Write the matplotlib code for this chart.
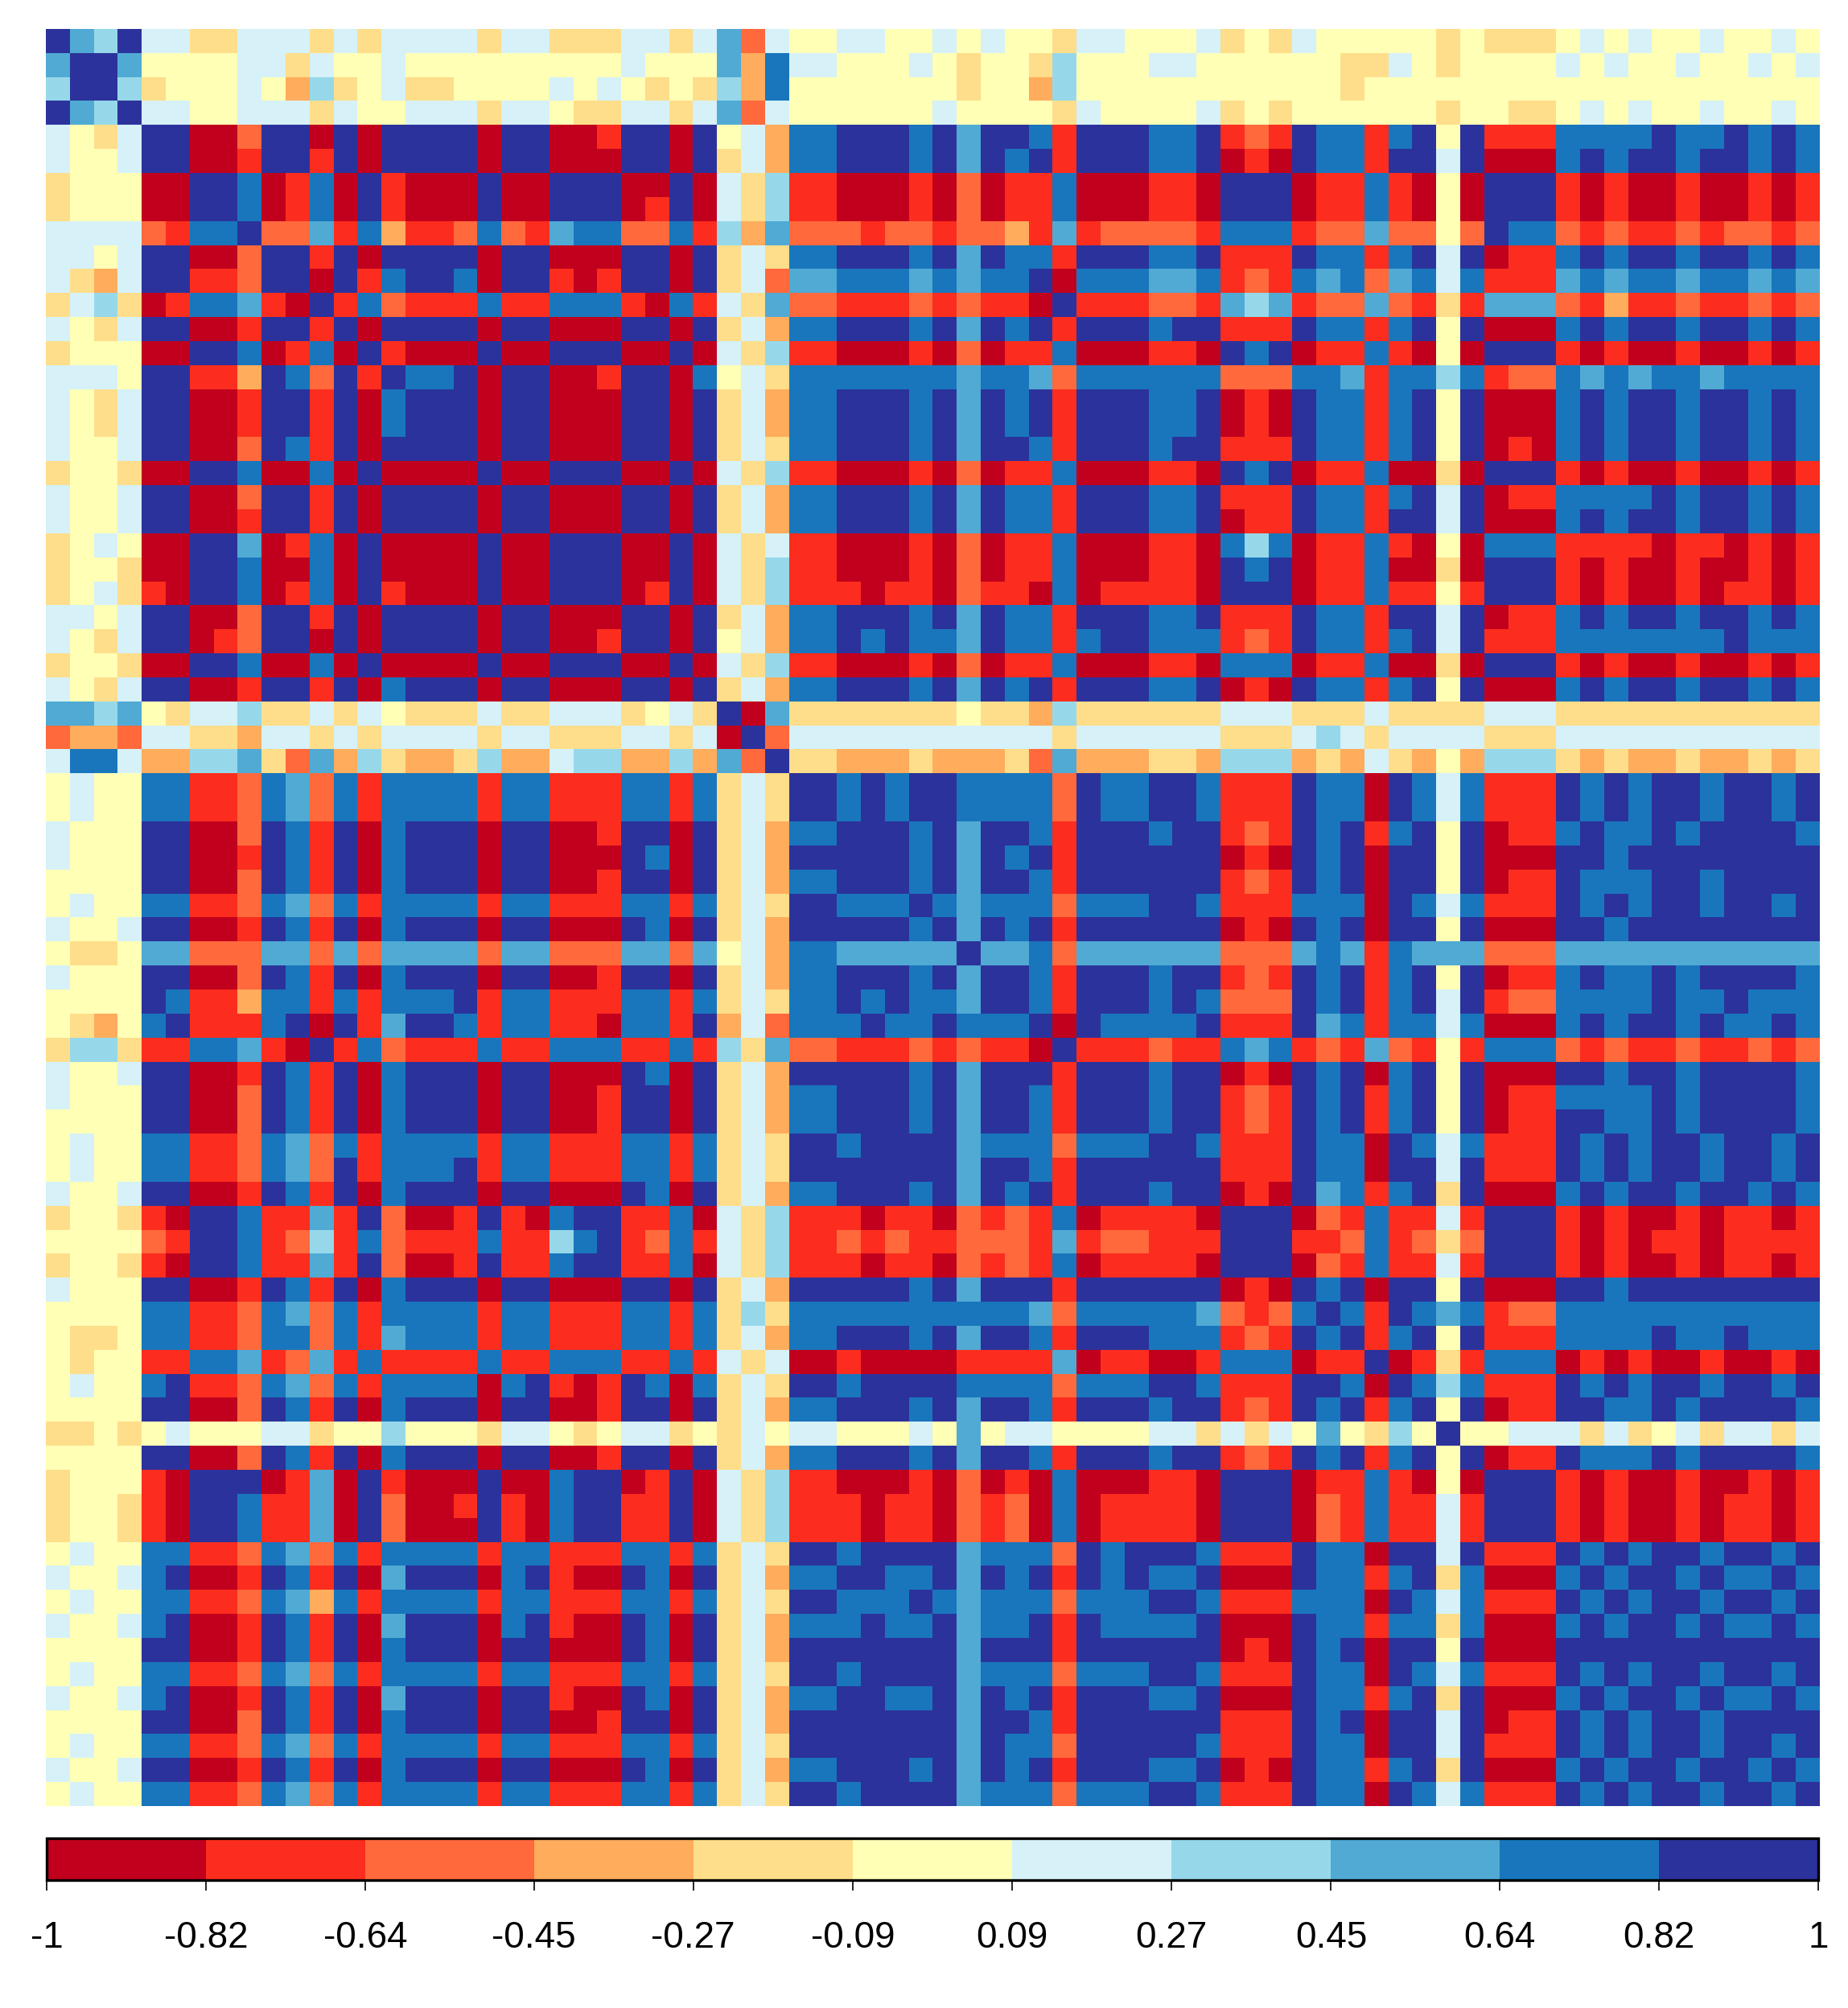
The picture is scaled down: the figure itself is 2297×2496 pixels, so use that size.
import numpy as np
import matplotlib
matplotlib.use("Agg")
import matplotlib.pyplot as plt
from matplotlib.colors import ListedColormap, BoundaryNorm
from matplotlib.cm import ScalarMappable

plt.rcParams["font.family"] = ["Liberation Sans", "DejaVu Sans"]

breaks = [-1, -0.82, -0.64, -0.45, -0.27, -0.09, 0.09, 0.27, 0.45, 0.64, 0.82, 1]
tick_labels = ["-1", "-0.82", "-0.64", "-0.45", "-0.27", "-0.09", "0.09", "0.27", "0.45", "0.64", "0.82", "1"]
colors = ["#c1001e", "#fc2d1e", "#ff693c", "#ffac5c", "#fede8a", "#ffffb6",
          "#d6f1f8", "#96d8ea", "#50aad4", "#1976bc", "#2c329b"]

# upper triangle, one string per row starting at the diagonal
# each char is a colour class: 0-9, A = 10
upper_rows = [
    "A87A 6644 666 4 6 4 6666 4 66 444 6 | 6468265566556545 | 5 4 6 5 5 5 5 5 4 5 4 4 4 5 6 5 6 5 5 6 5 5 6 5".replace("6468265566556545", "6 4 6 8 2 6 5 5 6 6 5 5 6 5 6 5 5 4 6 6 5 5 5 6 4"),
    "A A 8 5 5 5 5 6 6 4 6 5 5 6 5 5 5 5 5 5 5 5 5 6 | 5 5 5 8 3 9 6 6 5 5 5 6 5 4 5 5 4 7 5 5 5 6 6 5 5 | 5 5 5 5 4 4 6 5 4 5 5 5 5 6 5 6 5 5 6 5 5 6 5 6",
    "A 7 4 5 5 5 6 5 3 7 4 5 6 4 4 5 5 5 5 6 5 6 5 | 4 5 4 7 3 9 5555555 4 5 5 3 7 55555555 | 555 4 5555555555555555555",
    "A 6 6 5 5 6 6 6 4 6 5 5 6 6 6 4 6 6 5 4 4 6 | 6 4 6 8 2 6 555555 6 5555 4 6 5555 6 4 | 5 4 555555 4 5 5 4 4 5 6 5 6 5 5 6 5 5 6 5",
    "A A 0 0 2 A A 0 A 0 A A A A 0 A A 0 0 1 A | A 0 A 5 6 3 9 9 A A A 9 A 8 A A 9 1 A A A 9 9 A 1 | 2 1 A 9 9 1 9 A 5 A 1 1 1 9 9 9 9 A 9 9 A 9 A 9",
    "A 0 0 1 A A 1 A 0 A A A A 0 A A 0 0 0 A | A 0 A 4 6 3 9 9 A A A 9 A 8 A 9 A 1 A A A 9 9 A 0 | 1 0 A 9 9 1 A A 6 A 0 0 0 9 A 9 A A 9 A A 9 A 9",
    "A A 9 0 1 9 0 A 1 0 0 0 A 0 0 A A A 0 | 0 A 0 6 4 7 1 1 0 0 0 1 0 2 0 1 1 9 0 0 0 1 1 0 A | A A 0 1 1 9 1 0 5 0 A A A 1 0 1 0 0 1 0 0 1 0 1",
    "A 9 0 1 9 0 A 1 0 0 0 A 0 0 A A A 0 | 1 A 0 6 4 7 1 1 0 0 0 1 0 2 0 1 1 9 0 0 0 1 1 0 A | A A 0 1 1 9 1 0 5 0 A A A 1 0 1 0 0 1 0 0 1 0 1",
    "A 2 2 8 1 9 3 1 1 2 9 2 1 8 9 9 2 | 2 9 1 7 3 8 2 2 2 1 2 2 1 2 2 3 1 8 1 2 2 2 2 1 9 | 9 9 1 2 2 8 2 2 5 2 A 9 9 2 1 2 1 1 2 1 2 2 1 2",
    "A A 1 A 0 A A A A 0 A A 0 0 0 A | A 0 A 4 6 4 9 9 A A A 9 A 8 A 9 9 1 A A A 9 9 A 1 | 1 1 A 9 9 1 9 A 6 A 0 1 1 9 A 9 A A 9 A A 9 A 9",
    "A 0 A 1 9 A A 9 0 A A 1 0 1 A | A 0 A 4 6 2 8 8 9 9 9 8 9 8 9 9 A 0 9 9 9 8 8 9 1 | 2 1 9 8 9 2 8 9 6 9 1 1 1 8 9 8 9 9 8 9 9 8 9 8",
    "A 1 9 2 1 1 1 9 1 1 9 9 9 1 | 0 9 1 6 4 8 2 2 1 1 1 2 1 2 1 1 0 A 1 1 1 2 2 1 8 | 7 8 1 2 2 8 2 1 4 1 8 8 8 2 1 3 1 1 2 1 1 2 1 2",
    "A 0 A A A A 0 A A 0 0 0 A | A 0 A 4 6 3 9 9 A A A 9 A 8 A 9 A 1 A A A 9 A A 1 | 1 1 A 9 9 1 9 A 5 A 0 0 0 9 A 9 A A 9 A A 9 A 9",
    "A 1 0 0 0 A 0 0 A A A 0 | 0 A 0 6 4 7 1 1 0 0 0 1 0 2 0 1 1 9 0 0 0 1 1 0 A | 9 A 0 1 1 9 1 0 5 0 A A A 1 0 1 0 0 1 0 0 1 0 1",
    "A 9 9 A 0 A A 0 0 1 A | A 0 9 5 6 4 9999999 8 9 9 8 2 999999 2 | 2 2 9 9 8 1 9 9 7 9 1 2 2 9 8 9 8 9 9 8 9 9 9 9",
    "A A A 0 A A 0 0 0 A | A 0 A 4 6 3 9 9 A A A 9 A 8 A 9 A 1 A A A 9 9 A 0 | 1 0 A 9 9 1 9 A 5 A 0 0 0 9 A 9 A A 9 A A 9 A 9",
    "A A 0 A A 0 0 0 A | A 0 A 4 6 3 9 9 A A A 9 A 8 A 9 A 1 A A A 9 9 A 0 | 1 0 A 9 9 1 9 A 5 A 0 0 0 9 A 9 A A 9 A A 9 A 9",
    "A 0 A A 0 0 0 A | A 0 A 4 6 4 9 9 A A A 9 A 8 A A 9 1 A A A 9 A A 1 | 1 1 A 9 9 1 9 A 5 A 0 1 0 9 A 9 A A 9 A A 9 A 9",
    "A 0 0 A A A 0 | 0 A 0 6 4 7 1 1 0 0 0 1 0 2 0 1 1 9 0 0 0 1 1 0 A | 9 A 0 1 1 9 0 0 4 0 A A A 1 0 1 0 0 1 0 0 1 0 1",
    "A A 0 0 0 A | A 0 A 4 6 3 9 9 A A A 9 A 8 A 9 9 1 A A A 9 9 A 1 | 1 1 A 9 9 1 9 A 6 A 0 1 1 9 9 9 9 A 9 A A 9 A 9",
    "A 0 0 0 A | A 0 A 4 6 3 9 9 A A A 9 A 8 A 9 9 1 A A A 9 9 A 0 | 1 1 A 9 9 1 A A 6 A 0 0 0 9 A 9 A A 9 A A 9 A 9",
    "A A A 0 | 0 A 0 6 4 6 1 1 0 0 0 1 0 2 0 1 1 9 0 0 0 1 1 0 9 | 7 9 0 1 1 9 1 0 5 0 9 9 9 1 1 1 1 0 1 1 0 1 0 1",
    "A A 0 | 0 A 0 6 4 7 1 1 0 0 0 1 0 2 0 1 1 9 0 0 0 1 1 0 A | 9 A 0 1 1 9 0 0 4 0 A A A 1 0 1 0 0 1 0 0 1 0 1",
    "A 0 | 1 A 0 6 4 7 1 1 1 0 1 1 0 2 1 1 0 9 0 1 1 1 1 0 A | A A 0 1 1 9 1 1 5 1 A A A 1 0 1 0 0 1 0 1 1 0 1",
    "A | A 0 A 4 6 3 9 9 A A A 9 A 8 A 9 9 1 A A A 9 9 A 1 | 1 1 A 9 9 1 A A 6 A 0 1 1 9 A 9 A A 9 A A 9 A 9",
    "A 0 A 5 6 3 9 9 A 9 A 9 9 8 A 9 9 1 9 A A 9 9 9 1 | 2 1 A 9 9 1 9 A 6 A 1 1 1 9 9 9 9 9 9 9 A 9 9 9",
    "A 0 6 4 7 1 1 0 0 0 1 0 2 0 1 1 9 0 0 0 1 1 0 9 | 9 9 0 1 1 9 0 0 4 0 A A A 1 0 1 0 0 1 0 0 1 0 1",
    "A 4 6 3 9 9 A A A 9 A 8 A 9 A 1 A A A 9 9 A 0 | 1 0 A 9 9 1 9 A 5 A 0 0 0 9 A 9 A A 9 A A 9 A 9",
    "A 0 8 4444444 5 4 4 3 7 444444 6 | 6 6 4 4 4 6 4 4 4 4 6 6 6 44444444444",
    "A 2 66666666666 4 666666 4 | 4 4 6 7 6 4 6 6 6 6 4 4 4 66666666666",
    "A 4 4 3 3 3 4 3 3 3 4 2 8 3 3 3 4 4 3 7 | 7 7 3 4 3 6 4 3 5 3 7 7 7 4 3 4 3 3 4 3 3 4 3 4",
    "A A 9 A 9 A A 9 9 9 9 2 A 9 9 A A 9 1 | 1 1 A 9 9 0 A 9 6 9 1 1 1 A 9 A 9 A A 9 A A 9 A",
    "A 9 A 9 A A 9 9 9 9 2 A 9 9 A A 9 1 | 1 1 A 9 9 0 A 9 6 9 1 1 1 A 9 A 9 A A 9 A A 9 A",
    "A A A 9 A 8 A A 9 1 A A A 9 A A 1 | 2 1 A 9 A 1 9 A 5 A 0 1 1 9 A 9 9 A 9 A A A A 9",
    "A A 9 A 8 A 9 A 1 A A A A A A 0 | 1 0 A 9 A 0 A A 5 A 0 0 0 A A 9 A A A A A A A A",
    "A 9 A 8 A A 9 1 A A A A A A 1 | 2 1 A 9 A 0 A A 5 A 0 1 1 A 9 9 9 A A 9 A A A A",
    "A 9 8 9 9 9 2 9 9 9 A A 9 1 | 1 1 9 9 9 0 A 9 6 9 1 1 1 A 9 A 9 A A 9 A A 9 A",
    "A 8 A 9 A 1 A A A A A A 0 | 1 0 A 9 A 0 A A 5 A 0 0 0 A A 9 A A A A A A A A",
    "A 8 8 9 2 888888 2 | 2 2 8 9 8 1 9 8 8 8 2 2 2 88888888888",
    "A A 9 1 A A A 9 A A 1 | 2 1 A 9 A 1 9 A 5 A 0 1 1 9 A 9 9 A 9 A A A A 9",
    "A 9 1 A A A 9 A 9 2 | 2 2 A 9 A 1 9 A 6 A 1 2 2 9 9 9 9 A 9 9 A 9 9 9",
    "A 0 A 9 9 9 9 A 1 | 1 1 A 8 9 1 9 9 6 9 0 0 0 9 A 9 A A 9 A 9 9 A 9",
    "A 1 1 1 2 1 1 9 | 8 9 1 2 1 8 2 1 5 1 9 9 9 2 1 2 1 1 2 1 1 2 1 2",
    "A A A 9 A A 0 | 1 0 A 9 A 0 9 A 5 A 0 0 0 A A 9 A A 9 A A A A 9",
    "A A 9 A A 1 | 2 1 A 9 A 1 9 A 5 A 0 1 1 9 9 9 9 A 9 A A A A 9",
    "A 9 A A 1 | 2 1 A 9 A 1 9 A 5 A 0 1 1 A A 9 9 A 9 A A A A 9",
    "A A 9 1 | 1 1 A 9 9 0 A 9 6 9 1 1 1 A 9 A 9 A A 9 A A 9 A",
    "A A 1 | 1 1 A 9 9 0 A A 6 A 1 1 1 A 9 A 9 A A 9 A A 9 A",
    "A 0 | 1 0 A 8 9 1 9 A 4 A 0 0 0 9 A 9 A A 9 A A 9 A 9",
    "A | A A 0 2 1 9 1 1 6 1 A A A 1 0 1 0 0 1 0 1 1 0 1",
    "A A 1 1 2 9 1 2 4 2 A A A 1 0 1 0 1 1 0 1 1 1 1",
    "A 0 2 1 9 1 1 6 1 A A A 1 0 1 0 0 1 0 1 1 0 1",
    "A 9 A 0 A A 5 A 0 0 0 A A 9 A A A A A A A A",
    "A 9 1 A 9 8 9 1 2 2 9 9 9 9 9 9 9 9 9 9 9",
    "A 1 9 A 5 A 1 1 1 9 9 9 9 A 9 9 A 9 9 9",
    "A 0 1 4 1 9 9 9 0 1 0 1 0 0 1 0 0 1 0",
    "A 9 7 9 1 1 1 A 9 A 9 A A 9 A A 9 A",
    "A 5 A 0 1 1 A A 9 9 A 9 A A A A 9",
    "A 5 5 6 6 6 4 6 4 5 6 4 6 6 4 6",
    "A 0 1 1 A 9 9 9 A 9 A A A A 9",
    "A A A 1 0 1 0 0 1 0 0 1 0 1",
    "A A 1 0 1 0 0 1 0 1 1 0 1",
    "A 1 0 1 0 0 1 0 1 1 0 1",
    "A 9 A 9 A A 9 A A 9 A",
    "A 9 A A 9 A 9 9 A 9",
    "A 9 A A 9 A A 9 A",
    "A A 9 A 9 9 A 9",
    "A A A A A A A",
    "A 9 A A 9 A",
    "A 9 9 A 9",
    "A A A A",
    "A 9 A",
    "A 9",
    "A",
]

n = len(upper_rows)
mids = [(breaks[i] + breaks[i + 1]) / 2 for i in range(11)]
corr = np.full((n, n), 1.0)
for r, row in enumerate(upper_rows):
    row = row.replace(" ", "").replace("|", "")
    if len(row) != n - r:
        raise ValueError(f"row {r} has {len(row)} want {n - r}")
    for k, ch in enumerate(row):
        v = mids[int(ch, 16)]
        corr[r, r + k] = v
        corr[r + k, r] = v

W, H = 2297, 2496
fig = plt.figure(figsize=(W / 100, H / 100), dpi=100)

cmap = ListedColormap(colors)
norm = BoundaryNorm(breaks, cmap.N)

ax = fig.add_axes([57 / W, 1 - 2245 / H, 2205 / W, 2209 / H])
ax.imshow(corr, cmap=cmap, norm=norm, aspect="auto", interpolation="nearest")
ax.axis("off")

cax = fig.add_axes([58 / W, 1 - 2337 / H, 2202 / W, 52 / H])
cb = fig.colorbar(ScalarMappable(norm=norm, cmap=cmap), cax=cax, orientation="horizontal",
                  spacing="proportional", ticks=breaks)
cb.ax.set_xticklabels(tick_labels)
cb.outline.set_linewidth(2.4)
cb.ax.tick_params(axis="x", length=9, width=1.2, pad=27, labelsize=33, color="black")
cb.ax.minorticks_off()

fig.savefig("out.png", dpi=100)
